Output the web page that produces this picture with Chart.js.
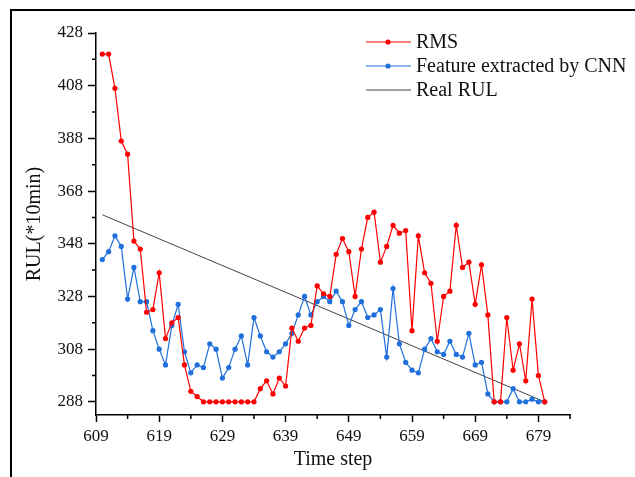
<!DOCTYPE html>
<html>
	<head>
		<title>RUL prediction</title>
		<script src="https://cdn.jsdelivr.net/npm/chart.js@4.4.0/dist/chart.umd.min.js"></script>
		<style>
			html, body { margin: 0; background: #fff; overflow: hidden; }
			#wrap { position: relative; width: 635px; height: 477px; overflow: hidden; }
			#frame {
				position: absolute; left: 10px; top: 9px; width: 640px; height: 480px;
				border-left: 2px solid #000; border-top: 2px solid #000; pointer-events: none;
			}
		</style>
	</head>
	<body>
		<div id="wrap">
			<canvas id="myChart" width="635" height="477"></canvas>
			<div id="frame"></div>
		</div>
		<script>
			// dane
			const timeSteps = [610, 611, 612, 613, 614, 615, 616, 617, 618, 619,
				620, 621, 622, 623, 624, 625, 626, 627, 628, 629,
				630, 631, 632, 633, 634, 635, 636, 637, 638, 639,
				640, 641, 642, 643, 644, 645, 646, 647, 648, 649,
				650, 651, 652, 653, 654, 655, 656, 657, 658, 659,
				660, 661, 662, 663, 664, 665, 666, 667, 668, 669,
				670, 671, 672, 673, 674, 675, 676, 677, 678, 679, 680];

			const rmsValues = [420, 420, 407, 387, 382, 349, 346, 322, 323, 337,
				312, 318, 320, 302, 292, 290, 288, 288, 288, 288,
				288, 288, 288, 288, 288, 293, 296, 291, 297, 294,
				316, 311, 316, 317, 332, 329, 328, 344, 350, 345,
				328, 346, 358, 360, 341, 347, 355, 352, 353, 315,
				351, 337, 333, 311, 328, 330, 355, 339, 341, 325,
				340, 321, 288, 288, 320, 300, 310, 296, 327, 298, 288];

			const cnnValues = [342, 345, 351, 347, 327, 339, 326, 326, 315, 308,
				302, 317, 325, 307, 299, 302, 301, 310, 308, 297,
				301, 308, 313, 302, 320, 313, 307, 305, 307, 310,
				314, 321, 328, 321, 326, 328, 326, 330, 326, 317,
				323, 326, 320, 321, 323, 305, 331, 310, 303, 300,
				299, 308, 312, 307, 306, 311, 306, 305, 314, 302,
				303, 291, 288, 288, 288, 293, 288, 288, 289, 288, 288];

			const realRulSteps = [610, 680];
			const realRulValues = [359, 288];

			const xTickLabels = [609, 619, 629, 639, 649, 659, 669, 679];
			const xMinorTicks = [614, 624, 634, 644, 654, 664, 674, 684];
			const yTickLabels = [288, 308, 328, 348, 368, 388, 408, 428];
			const yMinorTicks = [298, 318, 338, 358, 378, 398, 418];

			const serif = "'Liberation Serif', 'Times New Roman', serif";

			function points (xs, ys) {
				return xs.map((x, i) => ({ x: x, y: ys[i] }));
			}

			// male podzialki osi
			const minorTicks = {
				id: 'minorTicks',
				afterDraw (chart) {
					const ctx = chart.ctx;
					const a = chart.chartArea;
					ctx.save();
					ctx.strokeStyle = '#000';
					ctx.lineWidth = 1.5;
					ctx.beginPath();
					xMinorTicks.forEach(v => {
						const px = chart.scales.x.getPixelForValue(v);
						ctx.moveTo(px, a.bottom);
						ctx.lineTo(px, a.bottom + 4);
					});
					yMinorTicks.forEach(v => {
						const py = chart.scales.y.getPixelForValue(v);
						ctx.moveTo(a.left, py);
						ctx.lineTo(a.left - 4, py);
					});
					ctx.stroke();
					ctx.restore();
				}
			};

			// legenda wewnatrz wykresu
			const innerLegend = {
				id: 'innerLegend',
				afterDraw (chart) {
					const ctx = chart.ctx;
					ctx.save();
					ctx.font = '20px ' + serif;
					ctx.textBaseline = 'middle';
					chart.data.datasets.forEach((ds, i) => {
						const y = 42 + i * 24;
						ctx.strokeStyle = ds.borderColor;
						ctx.lineWidth = ds.borderWidth;
						ctx.beginPath();
						ctx.moveTo(366, y);
						ctx.lineTo(411, y);
						ctx.stroke();
						if (ds.pointRadius > 0) {
							ctx.fillStyle = ds.backgroundColor;
							ctx.beginPath();
							ctx.arc(388, y, 2.6, 0, Math.PI * 2);
							ctx.fill();
						}
						ctx.fillStyle = '#111';
						ctx.fillText(ds.label, 416, y + 1);
					});
					ctx.restore();
				}
			};

			var chart = new Chart(document.getElementById('myChart').getContext('2d'), {
				type: 'line',
				data: {
					datasets: [{
						label: 'RMS',
						data: points(timeSteps, rmsValues),
						borderColor: '#ff0000',
						backgroundColor: '#ff0000',
						borderWidth: 1.2,
						pointRadius: 2.6,
						pointBorderWidth: 0
					},
					{
						label: 'Feature extracted by CNN',
						data: points(timeSteps, cnnValues),
						borderColor: '#1f6fdc',
						backgroundColor: '#1f6fdc',
						borderWidth: 1.2,
						pointRadius: 2.6,
						pointBorderWidth: 0
					},
					{
						label: 'Real RUL',
						data: points(realRulSteps, realRulValues),
						borderColor: '#444',
						backgroundColor: '#444',
						borderWidth: 1,
						pointRadius: 0
					}]
				},
				options: {
					responsive: false,
					animation: false,
					devicePixelRatio: 1,
					layout: { padding: { top: 33, right: 65, left: 0, bottom: 0 } },
					plugins: {
						legend: { display: false },
						tooltip: { enabled: false }
					},
					scales: {
						x: {
							type: 'linear',
							min: 609,
							max: 684,
							afterBuildTicks: s => { s.ticks = xTickLabels.map(v => ({ value: v })); },
							afterFit: s => { s.height = 62; },
							ticks: { font: { family: serif, size: 17 }, color: '#111', padding: 4, maxRotation: 0, autoSkip: false },
							grid: { drawOnChartArea: false, drawTicks: true, tickLength: 7, tickColor: '#000', tickWidth: 1.5 },
							border: { color: '#000', width: 1.5 },
							title: { display: true, text: 'Time step', color: '#111', font: { family: serif, size: 20 }, padding: { top: 0, bottom: 5 } }
						},
						y: {
							min: 283,
							max: 428,
							afterBuildTicks: s => { s.ticks = yTickLabels.map(v => ({ value: v })); },
							afterFit: s => { s.width = 96; },
							ticks: { font: { family: serif, size: 17 }, color: '#111', padding: 5, autoSkip: false },
							grid: { drawOnChartArea: false, drawTicks: true, tickLength: 8, tickColor: '#000', tickWidth: 1.5 },
							border: { color: '#000', width: 1.5 },
							title: { display: true, text: 'RUL(*10min)', color: '#111', font: { family: serif, size: 20 }, padding: { top: 23, bottom: 0 } }
						}
					}
				},
				plugins: [minorTicks, innerLegend]
			});
		</script>
	</body>
</html>
